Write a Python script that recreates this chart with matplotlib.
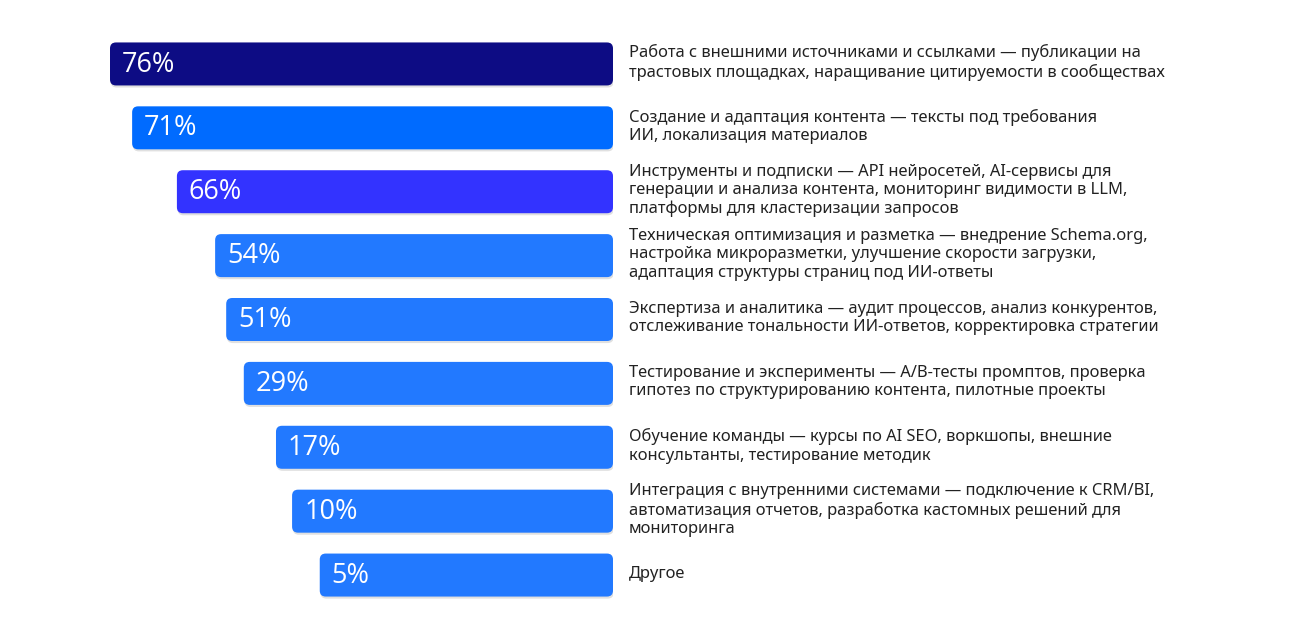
import matplotlib.pyplot as plt
import matplotlib.patheffects as pe
from matplotlib.patches import FancyBboxPatch

# values shown on the bars
values = [76, 71, 66, 54, 51, 29, 17, 10, 5]
# visual bar length (longest bar = 100)
bar_len = [100, 95.6, 86.7, 79.1, 76.9, 73.4, 67.0, 63.8, 58.3]
labels = [
    "Работа с внешними источниками и ссылками — публикации на\nтрастовых площадках, наращивание цитируемости в сообществах",
    "Создание и адаптация контента — тексты под требования\nИИ, локализация материалов",
    "Инструменты и подписки — API нейросетей, AI-сервисы для\nгенерации и анализа контента, мониторинг видимости в LLM,\nплатформы для кластеризации запросов",
    "Техническая оптимизация и разметка — внедрение Schema.org,\nнастройка микроразметки, улучшение скорости загрузки,\nадаптация структуры страниц под ИИ-ответы",
    "Экспертиза и аналитика — аудит процессов, анализ конкурентов,\nотслеживание тональности ИИ-ответов, корректировка стратегии",
    "Тестирование и эксперименты — A/B-тесты промптов, проверка\nгипотез по структурированию контента, пилотные проекты",
    "Обучение команды — курсы по AI SEO, воркшопы, внешние\nконсультанты, тестирование методик",
    "Интеграция с внутренними системами — подключение к CRM/BI,\nавтоматизация отчетов, разработка кастомных решений для\nмониторинга",
    "Другое",
]
colors = ["#0d0c84", "#006bff", "#3333ff"] + ["#2279ff"] * 6

plt.rcParams["font.family"] = ["Noto Sans", "DejaVu Sans"]

W, H = 1300, 638
fig = plt.figure(figsize=(W / 100, H / 100), dpi=100)
ax_left, ax_right = 110, 613
ax_top, ax_bottom = 32, 607
ax = fig.add_axes([ax_left / W, (H - ax_bottom) / H, (ax_right - ax_left) / W, (ax_bottom - ax_top) / H])
ax.set_xlim(100, 0)
ax.set_ylim(len(values) - 0.5, -0.5)
ax.axis("off")

xpx = (ax_right - ax_left) / 100  # px per x unit
ypx = (ax_bottom - ax_top) / len(values)  # px per y unit
radius = 6 / xpx
aspect = xpx / ypx

bars = ax.barh(range(len(values)), bar_len, height=43 / ypx, color=colors)
for bar, c, v in zip(bars, colors, values):
    bar.set_visible(False)
    x0, y0 = bar.get_x(), bar.get_y()
    w, h = bar.get_width(), bar.get_height()
    box = FancyBboxPatch((x0, y0), w, h,
                         boxstyle=f"round,pad=0,rounding_size={radius}",
                         mutation_aspect=aspect, facecolor=c, edgecolor="none")
    box.set_path_effects([pe.SimplePatchShadow(offset=(0.5, -1.5), shadow_rgbFace="#000000", alpha=0.12),
                          pe.Normal()])
    ax.add_patch(box)
    ax.text(x0 + w - 12 / xpx, y0 + h / 2 + 0.01, f"{v}%", family=["Open Sans", "DejaVu Sans"],
            color="white", fontsize=19.5, va="center", ha="left")

for i, lab in enumerate(labels):
    ax.text(0 - 16 / xpx, i - 0.02, lab, fontsize=11.9, color="#222222",
            va="center", ha="left", linespacing=1.2, clip_on=False)

fig.savefig("out.png", dpi=100)
